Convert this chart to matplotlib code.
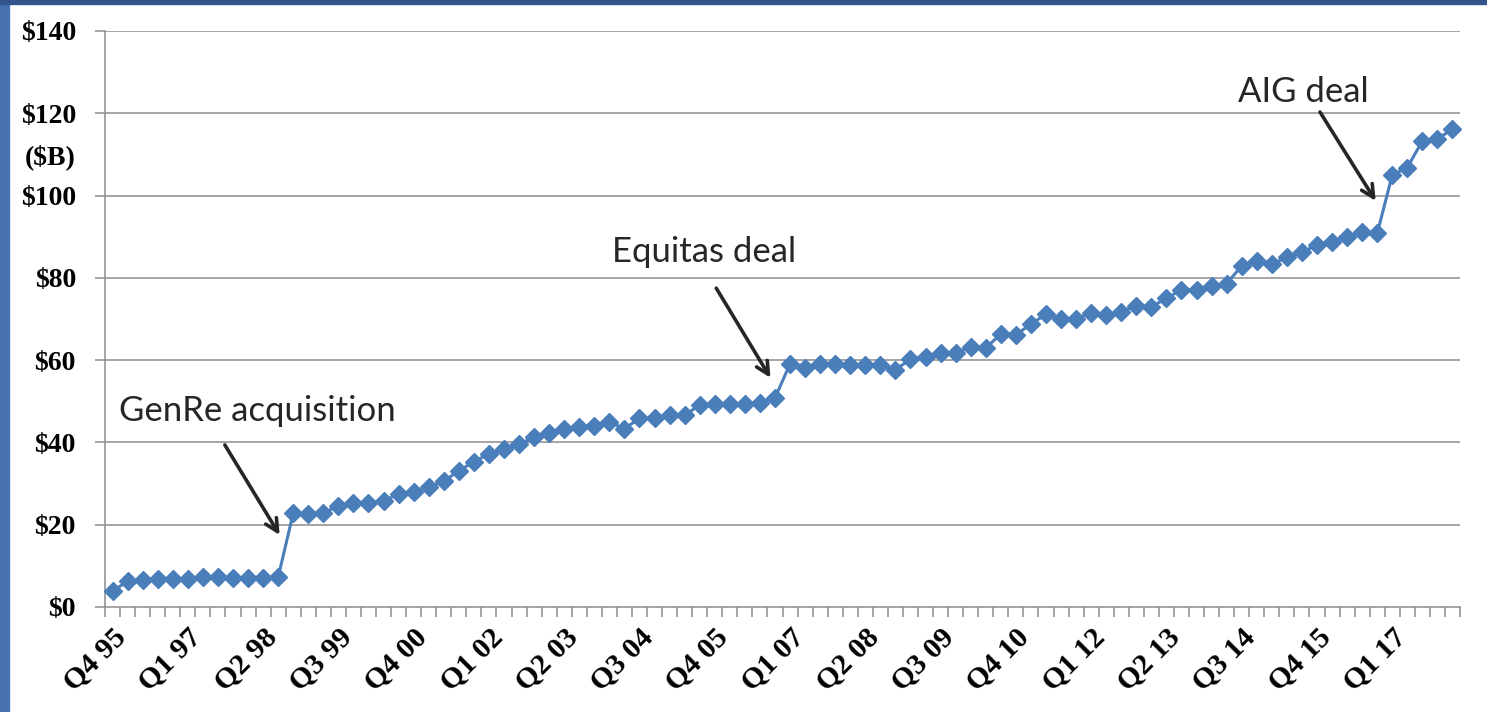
import matplotlib
matplotlib.use("Agg")
import matplotlib.pyplot as plt
from matplotlib.patches import Rectangle

# ---- data (quarterly, Q4 95 .. Q1 18), $B ----
values = [3.8, 6.3, 6.6, 6.8, 6.8, 6.8, 7.2, 7.4, 7.1, 7.0,
          7.1, 7.2, 22.8, 22.6, 22.8, 24.6, 25.2, 25.2, 25.8, 27.4,
          28.0, 29.1, 30.6, 33.1, 35.3, 37.2, 38.3, 39.6, 41.2, 42.4,
          43.3, 43.8, 44.0, 45.0, 43.3, 45.9, 45.9, 46.7, 46.6, 49.1,
          49.3, 49.3, 49.3, 49.7, 50.8, 59.1, 58.2, 59.0, 59.0, 58.9,
          58.9, 58.8, 57.7, 60.2, 60.8, 61.7, 61.7, 63.3, 63.0, 66.3,
          66.1, 68.8, 71.1, 69.9, 69.9, 71.5, 71.0, 71.8, 73.2, 73.0,
          75.0, 77.1, 77.1, 78.0, 78.6, 82.9, 84.1, 83.3, 85.0, 86.2,
          88.0, 88.8, 90.0, 91.1, 90.8, 105.0, 106.8, 113.3, 113.8, 116.1]
tick_labels = ["Q4 95", "Q1 97", "Q2 98", "Q3 99", "Q4 00", "Q1 02", "Q2 03",
               "Q3 04", "Q4 05", "Q1 07", "Q2 08", "Q3 09", "Q4 10", "Q1 12",
               "Q2 13", "Q3 14", "Q4 15", "Q1 17"]
yticks = [0, 20, 40, 60, 80, 100, 120, 140]
ytick_labels = ["$0", "$20", "$40", "$60", "$80", "$100", "$120", "$140"]
annotations = ["GenRe acquisition", "Equitas deal", "AIG deal"]

W, H = 1487, 712
fig = plt.figure(figsize=(W / 100, H / 100), dpi=100)
fig.patch.set_facecolor("white")

# frame strips
fig.add_artist(Rectangle((0, 0), 9 / W, 1, transform=fig.transFigure,
                         color="#4672B2", zorder=0))
fig.add_artist(Rectangle((0, 1 - 4 / H), 1, 4 / H, transform=fig.transFigure,
                         color="#34558C", zorder=0))

ax = fig.add_axes([105 / W, 1 - 607 / H, (1460 - 105) / W, (607 - 31) / H])
n = len(values)
x = list(range(n))
ax.plot(x, values, color="#4A7EBB", lw=2.2, marker="D", ms=8.8,
        mec="#4A7EBB", mfc="#4A7EBB", zorder=3, clip_on=False)

ax.set_xlim(-0.5, n - 0.5)
ax.set_ylim(0, 140)

grid_c = "#8C8C8C"
for y in yticks[1:]:
    ax.axhline(y, color=grid_c, lw=1.1, zorder=1)
for s in ["top", "right"]:
    ax.spines[s].set_visible(False)
for s in ["left", "bottom"]:
    ax.spines[s].set_color(grid_c)
    ax.spines[s].set_linewidth(1.1)

ax.set_yticks(yticks)
ax.set_yticklabels(ytick_labels)
ax.tick_params(axis="y", length=7, color=grid_c, width=1.1, pad=14)

ax.set_xticks([i * 5 for i in range(len(tick_labels))])
ax.set_xticklabels(tick_labels, rotation=45, ha="right", rotation_mode="anchor")
ax.set_xticks([i - 0.5 for i in range(n + 1)], minor=True)
ax.tick_params(axis="x", which="major", length=0, pad=12)
ax.tick_params(axis="x", which="minor", length=7, color=grid_c, width=1.1)

for lab in ax.get_yticklabels():
    lab.set_fontfamily("Liberation Serif")
    lab.set_fontweight("bold")
    lab.set_fontsize(20)
for lab in ax.get_xticklabels():
    lab.set_fontfamily("Liberation Serif")
    lab.set_fontweight("bold")
    lab.set_fontsize(21.5)

fig.text(50 / W, 1 - 157 / H, "($B)", ha="center", va="center",
         fontfamily="Liberation Serif", fontweight="bold", fontsize=20)

# annotations: (text pos, arrow tail, arrow head) in data coords
ann_geom = {
    "GenRe acquisition": ((9.6, 47.6), (7.46, 39.4), (11.1, 17.5)),
    "Equitas deal": ((39.3, 86.3), (40.1, 77.5), (43.7, 55.7)),
    "AIG deal": ((79.1, 125.2), (80.2, 120.3), (83.9, 98.7)),
}
for label in annotations:
    tpos, tail, head = ann_geom[label]
    ax.text(tpos[0], tpos[1], label, ha="center", va="center",
            fontfamily="Lato", fontsize=25, color="#262626", zorder=4)
    ax.annotate("", xy=head, xytext=tail,
                arrowprops=dict(arrowstyle="->,head_length=0.9,head_width=0.45",
                                color="#262626", lw=2.6, shrinkA=0, shrinkB=0),
                zorder=4)

fig.savefig("out.png", dpi=100)
